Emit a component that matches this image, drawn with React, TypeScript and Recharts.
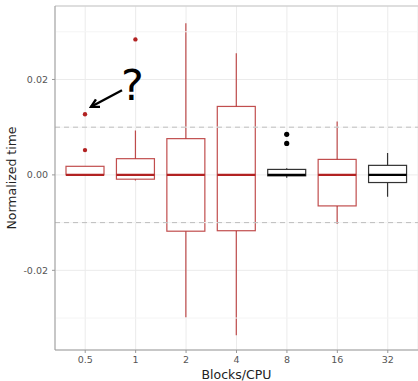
import React from 'react';
import {
  ComposedChart,
  Bar,
  XAxis,
  YAxis,
  CartesianGrid,
  ReferenceLine
} from 'recharts';

// Box plot stats per Blocks/CPU category
const categories = ['0.5', '1', '2', '4', '8', '16', '32'];
const lowerWhisker = [0, -0.0012, -0.0299, -0.0336, -0.0006, -0.0103, -0.0046];
const q1 = [0, -0.0009, -0.0118, -0.0117, -0.0002, -0.0065, -0.0016];
const medians = [0, 0, 0, 0, 0, 0, 0];
const q3 = [0.0018, 0.0034, 0.0076, 0.01435, 0.00115, 0.00325, 0.002];
const upperWhisker = [0.0018, 0.0093, 0.0318, 0.0255, 0.0014, 0.0112, 0.0046];
const outliers: number[][] = [[0.0052, 0.0127], [0.0284], [], [], [0.0066, 0.0085], [], []];

const yTicks = [-0.02, 0, 0.02];
const minorTicks = [-0.03, -0.01, 0.01, 0.03];
const thresholds = [-0.01, 0.01];
const annotatedCategory = '0.5';
const blackCategories = ['8', '32'];

const data = categories.map((cat, i) => ({
  cat,
  lo: lowerWhisker[i],
  q1: q1[i],
  med: medians[i],
  q3: q3[i],
  hi: upperWhisker[i],
  out: outliers[i]
}));

const RED = '#b22222';
const FONT = '"DejaVu Sans", sans-serif';

const BoxShape = (props: any) => {
  const { x, y, width, height, payload } = props;
  const top = Math.min(y, y + height);
  const h = Math.abs(height);
  const ppu = h / (payload.q3 - payload.q1);
  const py = (v: number) => top + (payload.q3 - v) * ppu;
  const cx = x + width / 2;
  const black = blackCategories.includes(payload.cat);
  const line = black ? '#333' : RED;
  const op = black ? 1 : 0.8;

  const outs = payload.out as number[];
  let annotation = null;
  if (payload.cat === annotatedCategory && outs.length) {
    const px = cx;
    const pyo = py(Math.max(...outs));
    const hx = px + 6, hy = pyo - 7.5;
    const tx = px + 37, ty = pyo - 24;
    const ang = Math.atan2(ty - hy, tx - hx);
    const len = 9;
    const a1 = ang + 0.5, a2 = ang - 0.5;
    annotation = (
      <g>
        <line x1={tx} y1={ty} x2={hx} y2={hy} stroke="#000" strokeWidth={2.4} />
        <polyline
          points={`${hx + len * Math.cos(a1)},${hy + len * Math.sin(a1)} ${hx},${hy} ${hx + len * Math.cos(a2)},${hy + len * Math.sin(a2)}`}
          fill="none"
          stroke="#000"
          strokeWidth={2.4}
        />
        <text x={px + 36} y={pyo - 14} fontSize={43} fontFamily={FONT} fill="#000">?</text>
      </g>
    );
  }

  return (
    <g>
      <line x1={cx} x2={cx} y1={py(payload.hi)} y2={py(payload.q3)} stroke={line} strokeOpacity={op} strokeWidth={1.2} />
      <line x1={cx} x2={cx} y1={py(payload.q1)} y2={py(payload.lo)} stroke={line} strokeOpacity={op} strokeWidth={1.2} />
      <rect x={x} y={top} width={width} height={h} fill="#fff" stroke={line} strokeOpacity={op} strokeWidth={1.2} />
      <line x1={x} x2={x + width} y1={py(payload.med)} y2={py(payload.med)} stroke={black ? '#000' : RED} strokeWidth={2.2} />
      {outs.map((v, i) => (
        <circle key={i} cx={cx} cy={py(v)} r={black ? 2.6 : 2.2} fill={black ? '#000' : RED} />
      ))}
      {annotation}
    </g>
  );
};

export default function App() {
  return (
    <ComposedChart
      width={418}
      height={381}
      data={data}
      margin={{ top: 6, right: 0, left: 0, bottom: 0 }}
      style={{ position: 'absolute', left: 0, top: 0, background: '#fff' }}
    >
      <CartesianGrid stroke="#ebebeb" strokeWidth={1} />
      {minorTicks.map((v) => (
        <ReferenceLine key={v} y={v} stroke="#f4f4f4" strokeWidth={1} />
      ))}
      {thresholds.map((v) => (
        <ReferenceLine key={v} y={v} stroke="#bdbdbd" strokeDasharray="5 4" strokeWidth={1} />
      ))}
      <ReferenceLine y={0.0354} stroke="#c8c8c8" strokeWidth={1.2} />
      <XAxis
        dataKey="cat"
        height={31}
        padding={{ left: 5, right: 5 }}
        tickSize={3}
        tickMargin={3}
        axisLine={{ stroke: '#999' }}
        tickLine={{ stroke: '#999' }}
        tick={{ fontSize: 9.5, fill: '#555', fontFamily: FONT }}
        label={{
          value: 'Blocks/CPU',
          position: 'insideBottom',
          offset: 2,
          style: { fontSize: 12.5, fill: '#222', fontFamily: FONT }
        }}
      />
      <YAxis
        type="number"
        width={55}
        domain={[-0.0367, 0.0354]}
        allowDataOverflow
        ticks={yTicks}
        tickFormatter={(v: number) => v.toFixed(2)}
        tickSize={3}
        tickMargin={4}
        axisLine={{ stroke: '#999' }}
        tickLine={{ stroke: '#999' }}
        tick={{ fontSize: 9.5, fill: '#555', fontFamily: FONT }}
        label={{
          value: 'Normalized time',
          angle: -90,
          position: 'insideLeft',
          offset: 12,
          style: { textAnchor: 'middle', fontSize: 12.5, fill: '#222', fontFamily: FONT }
        }}
      />
      <Bar
        dataKey={(d: any) => [d.q1, d.q3]}
        barSize={38}
        shape={BoxShape}
        isAnimationActive={false}
      />
    </ComposedChart>
  );
}
